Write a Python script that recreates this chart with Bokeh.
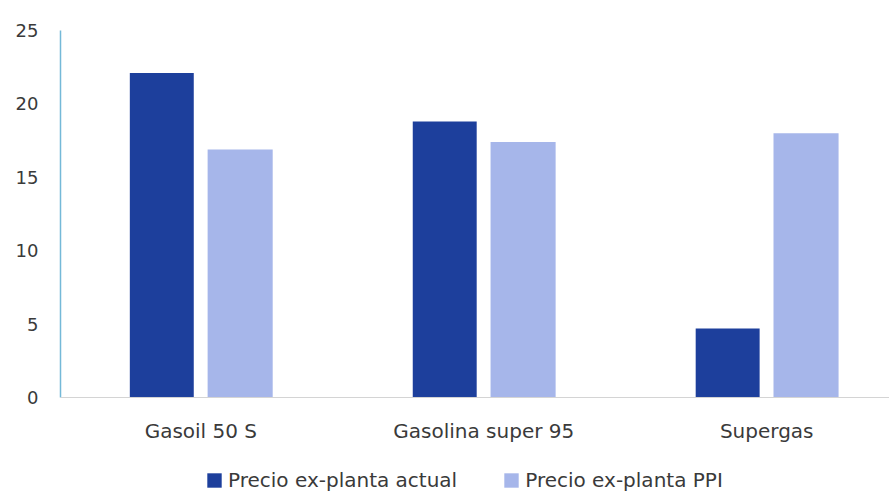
from bokeh.plotting import figure
from bokeh.models import ColumnDataSource, Range1d, FixedTicker, Legend, LegendItem, Span
from bokeh.core.properties import value
from bokeh.transform import dodge
from bokeh.embed import file_html
from bokeh.resources import INLINE

categories = ["Gasoil 50 S", "Gasolina super 95", "Supergas"]
actual = [22.1, 18.8, 4.7]
ppi = [16.9, 17.4, 18.0]
series_names = ["Precio ex-planta actual", "Precio ex-planta PPI"]
y_ticks = [0, 5, 10, 15, 20, 25]

xs = list(range(len(categories)))
src = ColumnDataSource(dict(x=xs, cat=categories, actual=actual, ppi=ppi))

FONT = "DejaVu Sans"
TXT = "#3a3a3a"
p = figure(width=889, height=493, output_backend="svg", toolbar_location=None,
           x_range=Range1d(-0.496, 2.434), y_range=Range1d(-6.54, 25),
           min_border_left=60, min_border_right=0, min_border_top=30, min_border_bottom=0)
p.outline_line_color = None
p.grid.grid_line_color = None
p.background_fill_color = "white"
p.border_fill_color = "white"

r1 = p.vbar(x=dodge("x", -0.138, range=p.x_range), top="actual", width=0.226, source=src,
            fill_color="#1d3f9c", line_color=None)
r2 = p.vbar(x=dodge("x", 0.139, range=p.x_range), top="ppi", width=0.23, source=src,
            fill_color="#a6b6ea", line_color=None)

# baseline (category axis line)
p.add_layout(Span(location=0, dimension="width", line_color="#d4d4d4", line_width=1))

# category labels under the baseline
p.text(x="x", y=0, text="cat", source=src, y_offset=34, text_align="center",
       text_baseline="middle", text_font=value(FONT), text_font_size="20px", text_color=TXT)

p.xaxis.visible = False

p.yaxis.ticker = FixedTicker(ticks=y_ticks)
p.yaxis.bounds = (0, 25)
p.yaxis.axis_line_color = "#74b9d8"
p.yaxis.axis_line_width = 1.5
p.yaxis.major_tick_line_color = None
p.yaxis.minor_tick_line_color = None
p.yaxis.major_label_standoff = 16
p.yaxis.major_label_text_font = FONT
p.yaxis.major_label_text_font_size = "18px"
p.yaxis.major_label_text_color = TXT

legend = Legend(items=[LegendItem(label=series_names[0], renderers=[r1]),
                       LegendItem(label=series_names[1], renderers=[r2])],
                orientation="horizontal", location=(145, 1),
                border_line_color=None, background_fill_alpha=0,
                glyph_width=18, glyph_height=18, label_text_font=FONT,
                label_text_font_size="20px", label_text_color=TXT,
                padding=0, margin=0, spacing=45, label_standoff=5)
p.add_layout(legend, "center")

open("out.html", "w").write(file_html(p, INLINE))
